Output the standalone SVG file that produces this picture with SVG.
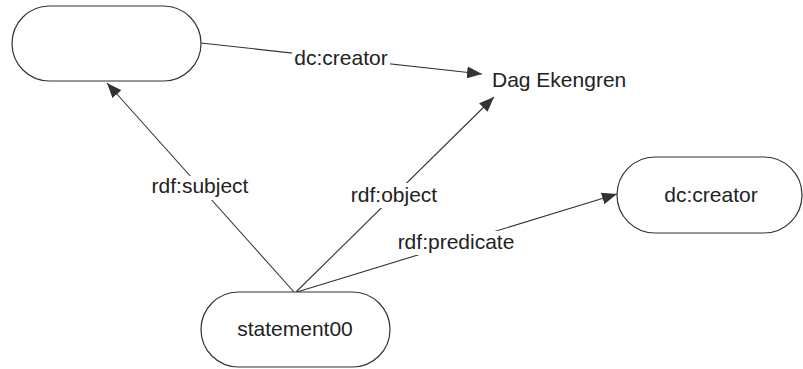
<svg xmlns="http://www.w3.org/2000/svg" width="803" height="369" viewBox="0 0 803 369">
<style>
.node{fill:#fff;stroke:#333;stroke-width:1.2}
.edge{stroke:#333;stroke-width:1.1;fill:none}
.t{font-family:"Liberation Sans",Arial,sans-serif;font-size:21px;fill:#222;text-anchor:middle}
.bg{fill:#fff}
</style>
<defs>
<marker id="ah" markerUnits="userSpaceOnUse" markerWidth="16" markerHeight="12" refX="15" refY="6" orient="auto">
<path d="M0,0 L15,6 L0,12 z" fill="#333"/>
</marker>
</defs>
<rect width="803" height="369" fill="#fff"/>
<g id="connectors">
<line class="edge" x1="201" y1="43" x2="482" y2="74" marker-end="url(#ah)"/>
<line class="edge" x1="294" y1="292" x2="107" y2="83" marker-end="url(#ah)"/>
<line class="edge" x1="296" y1="292" x2="494" y2="97" marker-end="url(#ah)"/>
<line class="edge" x1="297" y1="292" x2="617" y2="194" marker-end="url(#ah)"/>
<rect class="bg" x="292" y="48" width="98" height="22"/>
<text class="t" x="341" y="65">dc:creator</text>
<rect class="bg" x="150" y="176" width="101" height="24"/>
<text class="t" x="200" y="193">rdf:subject</text>
<rect class="bg" x="348" y="183" width="93" height="25"/>
<text class="t" x="394" y="202">rdf:object</text>
<rect class="bg" x="394" y="231" width="124" height="24"/>
<text class="t" x="456" y="249">rdf:predicate</text>
</g>
<g id="node-blank">
<rect class="node" x="12" y="6" width="189" height="75" rx="37.5"/>
</g>
<g id="node-dag">
<text class="t" x="492" y="87" style="text-anchor:start">Dag Ekengren</text>
</g>
<g id="node-dccreator">
<rect class="node" x="617" y="157" width="185" height="76" rx="38"/>
<text class="t" x="711" y="202">dc:creator</text>
</g>
<g id="node-statement">
<rect class="node" x="201" y="292" width="189" height="75" rx="37.5"/>
<text class="t" x="295" y="336">statement00</text>
</g>
</svg>
